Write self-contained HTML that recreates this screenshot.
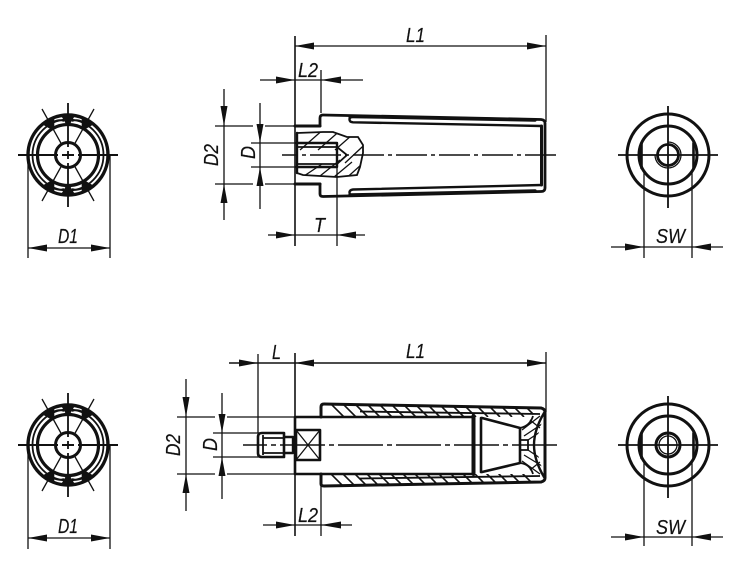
<!DOCTYPE html>
<html>
<head>
<meta charset="utf-8">
<style>
html,body{margin:0;padding:0;background:#fff;}
svg{display:block;}
text{font-family:"Liberation Sans",sans-serif;font-style:italic;font-size:20px;fill:#111;stroke:#111;stroke-width:.2;}
.t{stroke:#111;stroke-width:1.3;fill:none;}
.m{stroke:#111;stroke-width:1.8;fill:none;}
.k{stroke:#111;stroke-width:3;fill:none;stroke-linejoin:round;stroke-linecap:round;}
.c{stroke:#111;stroke-width:1.4;fill:none;}
.f{fill:#111;stroke:none;}
</style>
</head>
<body>
<svg width="750" height="569" viewBox="0 0 750 569" xmlns="http://www.w3.org/2000/svg">
<defs>
<clipPath id="cpA"><path d="M297 133L323 132L333 132L347 137L358 137L363 145L363 153L360 167L357 175L337 177L303 175L297 173Z"/></clipPath>
<clipPath id="cpB"><path d="M322 405L541 409L530 417L476 417L322 417Z"/></clipPath>
<clipPath id="cpC"><path d="M322 474L476 474L530 474L541 481L322 485Z"/></clipPath>
<clipPath id="cpD"><path d="M482 417L530 417L545 412L535 445L545 478L530 474L482 474L520 463L520 428Z"/></clipPath>
<path id="blob" class="f" d="M-7 -39.500L7 -39.500L1.500 -30L-1.500 -30Z"/>
<g id="grip">
<use href="#blob"/>
<use href="#blob" transform="rotate(30)"/>
<use href="#blob" transform="rotate(-30)"/>
<path class="m" d="M-15 -33Q-9 -36 -4 -34M15 -33Q9 -36 4 -34"/>
</g>
<g id="endL">
<circle class="k" r="40" style="stroke-width:3.400"/>
<circle class="m" r="35.500"/>
<circle class="k" r="30.500" style="stroke-width:3.200"/>
<circle class="k" r="12.500" style="stroke-width:3"/>
<use href="#grip"/>
<use href="#grip" transform="scale(1,-1)"/>
<path class="t" style="stroke-width:2" d="M-50 0H-10M-6 0H6M10 0H50"/>
<path class="t" style="stroke-width:1.800" d="M0 -52V-8M0 -4V4M0 8V52"/>
<path class="t" d="M-26 -46L-6 -10M26 -46L6 -10M-26 46L-6 10M26 46L6 10"/>
</g>
</defs>

<!-- TOP LEFT END VIEW -->
<use href="#endL" x="68" y="155"/>
<path class="t" d="M28 155V258M110 155V258M28 248H110"/>
<path class="f" d="M28 248L47 244.500V251.500Z"/><path class="f" d="M110 248L91 244.500V251.500Z"/>
<text x="58" y="243" textLength="20" lengthAdjust="spacingAndGlyphs">D1</text>

<!-- BOTTOM LEFT END VIEW -->
<use href="#endL" x="68" y="445"/>
<path class="t" d="M28 445V549M110 445V549M28 538H110"/>
<path class="f" d="M28 538L47 534.500V541.500Z"/><path class="f" d="M110 538L91 534.500V541.500Z"/>
<text x="58" y="533" textLength="20" lengthAdjust="spacingAndGlyphs">D1</text>

<!-- TOP CENTER -->
<path class="t" style="stroke-width:1.600" d="M295 36V246"/>
<path class="t" d="M295 46H546M546 35V122"/>
<path class="f" d="M295 46L314 42.500V49.500Z"/><path class="f" d="M546 46L527 42.500V49.500Z"/>
<text x="406" y="42" textLength="19" lengthAdjust="spacingAndGlyphs">L1</text>
<path class="t" d="M260 80H363M321 70V113"/>
<path class="f" d="M295 80L276 76.500V83.500Z"/><path class="f" d="M321 80L341 76.500V83.500Z"/>
<text x="298" y="77" textLength="20" lengthAdjust="spacingAndGlyphs">L2</text>
<path class="t" d="M224 89V220M215 126H253M265 126H295M215 184H253M265 184H295"/>
<path class="f" d="M224 126L220.500 106H227.500Z"/><path class="f" d="M224 184L220.500 203H227.500Z"/>
<text transform="translate(218,166) rotate(-90)" textLength="22" lengthAdjust="spacingAndGlyphs">D2</text>
<path class="t" d="M260 103V209M251 143H295M251 167H295"/>
<path class="f" d="M260 143L256.500 124H263.500Z"/><path class="f" d="M260 167L256.500 186H263.500Z"/>
<text transform="translate(255,159) rotate(-90)" textLength="13" lengthAdjust="spacingAndGlyphs">D</text>
<path class="t" d="M268 235H365M337 143V246"/>
<path class="f" d="M295 235L276 231.500V238.500Z"/><path class="f" d="M337 235L356 231.500V238.500Z"/>
<text x="314" y="232" textLength="11" lengthAdjust="spacingAndGlyphs">T</text>
<!-- body -->
<path class="k" d="M295 126H320M295 184H320"/>
<path class="k" d="M320 126V118Q320 115 323 115L541 119.500Q545 120 545 123V188Q545 191.500 541 191.500L323 196.500Q320 196.500 320 194V184" style="stroke-width:2.800"/>
<path class="k" d="M350 116.500L535 120" style="stroke-width:3.400"/>
<path class="k" d="M350 195L535 191" style="stroke-width:3.400"/>
<path class="k" d="M541.500 126V185"/>
<path class="k" d="M541.500 126L353 122.300Q349.500 122 349.500 119.500Q349.500 117 352 117" style="stroke-width:2.400"/>
<path class="k" d="M541.500 185L353 189.500Q349.500 190 349.500 192.500Q349.500 195 352 195" style="stroke-width:2.400"/>
<!-- section -->
<g clip-path="url(#cpA)"><path class="t" d="M300 150L325 128M318 150L343 128M335 150L360 128M345 163L375 135M342 182L372 155M315 180L340 160M298 180L322 164M328 182L352 162"/></g>
<path class="m" d="M297 133L323 132L333 132L347 137L358 137L363 145L363 153L360 167L357 175L337 177L303 175L297 173"/>
<path class="k" style="stroke-width:2.400" d="M296 143H337V167H296M297 133V173"/>
<path class="m" d="M298 147H337M298 164H337M337 147V164M337 147L347 155L337 164"/>
<path class="c" style="stroke-dasharray:31 4 4 4;stroke-dashoffset:15" d="M282 155H558"/>

<!-- TOP RIGHT END VIEW -->
<circle class="k" cx="668" cy="155" r="41" style="stroke-width:3"/>
<circle class="k" cx="668" cy="155" r="29" style="stroke-width:3"/>
<path class="k" style="stroke-width:2.600" d="M641.500 143V168M693.500 143V168"/>
<circle class="k" cx="668" cy="155" r="10.500" style="stroke-width:2.800"/>
<path class="t" d="M668 142A13 13 0 1 1 655 155"/>
<path class="m" d="M618 155H718M668 106V208"/>
<path class="t" d="M644 170V258M692 170V258M611 247H723"/>
<path class="f" d="M644 247L625 243.500V250.500Z"/><path class="f" d="M692 247L711 243.500V250.500Z"/>
<text x="656" y="243" textLength="29" lengthAdjust="spacingAndGlyphs">SW</text>

<!-- BOTTOM CENTER -->
<path class="t" style="stroke-width:1.600" d="M295 353V536"/>
<path class="t" style="stroke-width:1.600" d="M229 363H546"/>
<path class="t" d="M258 354V433M546 352V412"/>
<path class="f" d="M258 363L239 359.500V366.500Z"/><path class="f" d="M295 363L314 359.500V366.500Z"/><path class="f" d="M546 363L527 359.500V366.500Z"/>
<text x="272" y="359" textLength="9" lengthAdjust="spacingAndGlyphs">L</text>
<text x="406" y="358" textLength="19" lengthAdjust="spacingAndGlyphs">L1</text>
<path class="t" d="M186 379V511M177 417H215M227 417H295M177 474H215M227 474H295"/>
<path class="f" d="M186 417L182.500 397H189.500Z"/><path class="f" d="M186 474L182.500 493H189.500Z"/>
<text transform="translate(180,456) rotate(-90)" textLength="22" lengthAdjust="spacingAndGlyphs">D2</text>
<path class="t" d="M222 393V499M213 433H262M213 457H262"/>
<path class="f" d="M222 433L218.500 414H225.500Z"/><path class="f" d="M222 457L218.500 476H225.500Z"/>
<text transform="translate(217,451) rotate(-90)" textLength="13" lengthAdjust="spacingAndGlyphs">D</text>
<path class="t" d="M263 525H352M321 474V536"/>
<path class="f" d="M295 525L276 521.500V528.500Z"/><path class="f" d="M321 525L341 521.500V528.500Z"/>
<text x="298" y="522" textLength="20" lengthAdjust="spacingAndGlyphs">L2</text>
<!-- screw -->
<path class="k" style="stroke-width:2.600" d="M262 433H284V457H262Q258 457 258 453V437Q258 433 262 433Z"/>
<path class="m" d="M263 435V455M263 438H284M263 453H284"/>
<path class="k" style="stroke-width:2.400" d="M285 437H293V453H285"/>
<!-- square -->
<path class="k" style="stroke-width:2.600" d="M295 417V474"/>
<path class="k" style="stroke-width:2.600" d="M296 430H320V460H296Z"/>
<path class="t" d="M296 430L320 460M320 430L296 460"/>
<!-- handle -->
<path class="k" style="stroke-width:2.400" d="M295 417H472M295 474H472"/>
<path class="k" d="M321 417V407Q321 404 324 404L541 408Q545 409 545 412V478Q545 481 541 482L324 486Q321 486 321 484V474"/>
<path class="m" d="M360 411.500L540 414M360 478.500L540 476"/>
<g clip-path="url(#cpB)"><path class="t" style="stroke-width:1.600" d="M330 403L344 417M342 403L356 417M354 403L368 417M366 403L380 417M378 403L392 417M390 403L404 417M402 403L416 417M414 403L428 417M426 403L440 417M438 403L452 417M450 403L464 417M462 403L476 417M474 403L488 417M486 403L500 417M498 403L512 417M510 403L524 417M522 403L536 417"/></g>
<g clip-path="url(#cpC)"><path class="t" style="stroke-width:1.600" d="M330 473L344 487M342 473L356 487M354 473L368 487M366 473L380 487M378 473L392 487M390 473L404 487M402 473L416 487M414 473L428 487M426 473L440 487M438 473L452 487M450 473L464 487M462 473L476 487M474 473L488 487M486 473L500 487M498 473L512 487M510 473L524 487M522 473L536 487"/></g>
<path class="k" style="stroke-width:4" d="M473.500 416V474"/>
<path class="k" style="stroke-width:2.600" d="M481 418V472"/>
<path class="k" style="stroke-width:2.600" d="M482 418L520 428V463L482 472"/>
<path class="m" d="M520 440H528V450H520"/>
<g clip-path="url(#cpD)"><path class="t" d="M522 430L540 416M524 436L542 424M528 440L540 432M528 450L540 458M524 455L542 466M522 461L540 474M530 420L540 428M530 470L540 462"/></g>
<path class="m" d="M520 428Q530 426 533 416M520 463Q530 464 533 474"/>
<path class="k" style="stroke-width:2.400" d="M544 413Q534 430 534 445Q534 460 544 477"/>
<path class="c" style="stroke-dasharray:45 4 5 4;stroke-dashoffset:21" d="M243 445H559"/>

<!-- BOTTOM RIGHT END VIEW -->
<circle class="k" cx="668" cy="445" r="41" style="stroke-width:3"/>
<circle class="k" cx="668" cy="445" r="29" style="stroke-width:3"/>
<path class="k" style="stroke-width:2.600" d="M641.500 433V458M693.500 433V458"/>
<circle class="k" cx="668" cy="445" r="12" style="stroke-width:3"/>
<circle class="t" cx="668" cy="445" r="9"/>
<path class="m" d="M618 445H718M668 396V498"/>
<path class="t" d="M644 460V546M692 460V546M611 537H723"/>
<path class="f" d="M644 537L625 533.500V540.500Z"/><path class="f" d="M692 537L711 533.500V540.500Z"/>
<text x="656" y="534" textLength="29" lengthAdjust="spacingAndGlyphs">SW</text>
</svg>
</body>
</html>
